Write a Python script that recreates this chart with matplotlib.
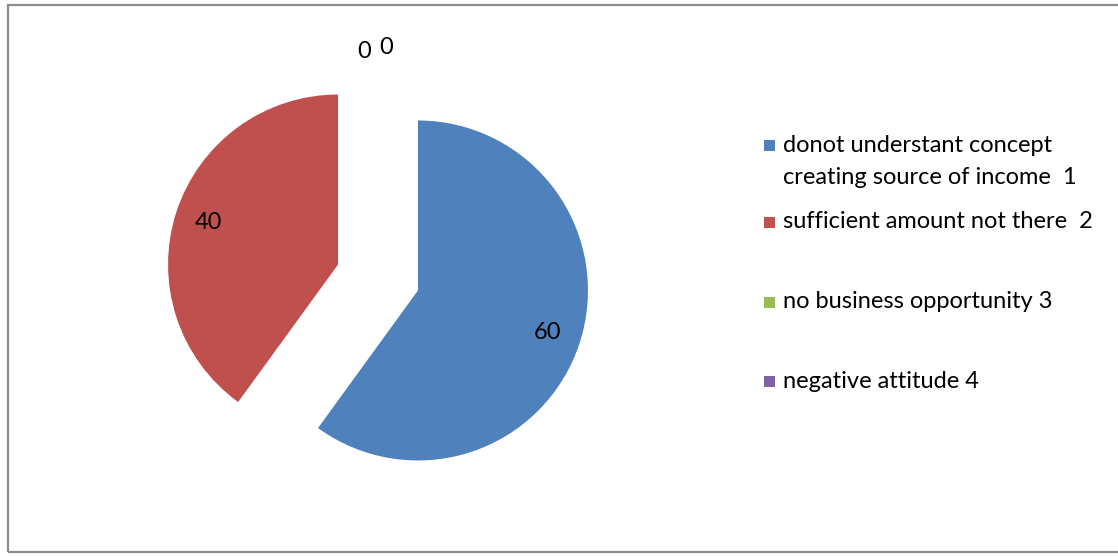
import matplotlib
matplotlib.use('Agg')
import matplotlib.pyplot as plt
from matplotlib.patches import Rectangle

plt.rcParams['font.family'] = ['Lato', 'DejaVu Sans']

# ── data ──
categories = ['donot understant concept\ncreating source of income  1',
              'sufficient amount not there  2',
              'no business opportunity 3',
              'negative attitude 4']
values = [60, 40, 0, 0]
colors = ['#4F81BD', '#C0504D', '#9BBB59', '#8064A2']

W, H = 1118, 556
FS = 17
fig = plt.figure(figsize=(W / 100, H / 100), dpi=100)
ax = fig.add_axes([0, 0, 1, 1])

# chart border (Excel chart area)
fig.patches.append(Rectangle((8 / W, 4 / H), 1.2, 547 / H, transform=fig.transFigure,
                             fill=False, edgecolor='#8c8c8c', lw=1.6))

wedges, texts, autotexts = ax.pie(
    values, colors=colors, startangle=90, counterclock=False,
    center=(378, 278.5), radius=170,
    explode=[42, 42, 0, 0],
    autopct=lambda p: f'{p * sum(values) / 100:.0f}',
    pctdistance=0.8,
    textprops=dict(fontsize=FS, color='black'),
    wedgeprops=dict(linewidth=0), frame=True)
ax.axis('off')
ax.set_xlim(0, W)
ax.set_ylim(0, H)
ax.set_aspect('equal')

# zero-value labels sit above the pie, as in Excel
zero_pos = [(364, 505), (386, 508)]
k = 0
for t, v in zip(autotexts, values):
    if v == 0:
        t.set_position(zero_pos[k])
        k += 1

# legend, Excel-style spacing
leg_y = [145, 222, 302, 381]
for lab, c, y in zip(categories, colors, leg_y):
    ax.add_patch(Rectangle((764, H - y - 6), 11, 11, facecolor=c, edgecolor='none'))
    if '\n' in lab:
        ax.text(783, H - y + 10, lab, fontsize=FS, va='top', ha='left', linespacing=1.65)
    else:
        ax.text(783, H - y, lab, fontsize=FS, va='center', ha='left')

fig.savefig('out.png', dpi=100)
